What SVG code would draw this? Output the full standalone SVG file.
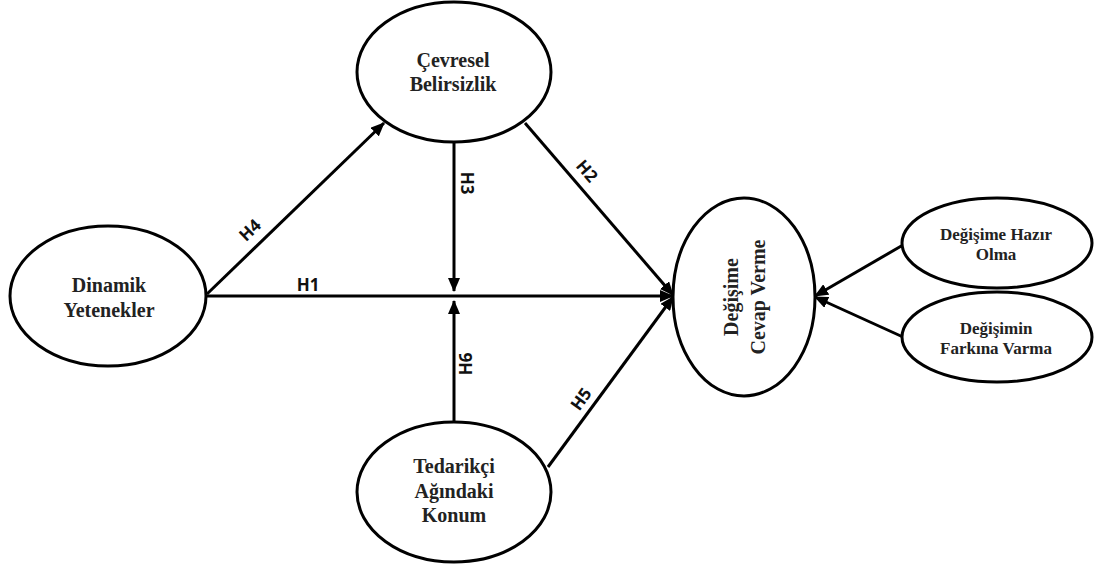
<svg xmlns="http://www.w3.org/2000/svg" width="1100" height="572" viewBox="0 0 1100 572">
<style>
.node ellipse{fill:#fff;stroke:#000;stroke-width:3}
.nt{font-family:"Liberation Serif","Times New Roman",serif;font-weight:bold;font-size:20px;fill:#222;text-anchor:middle}
.nts{font-size:17px}
.edge{stroke:#000;stroke-width:3;fill:none}
.lbl{font-family:"Open Sans","DejaVu Sans",sans-serif;font-weight:bold;font-size:17px;fill:#111;text-anchor:middle}
</style>
<defs>
<marker id="arr" markerUnits="userSpaceOnUse" markerWidth="14" markerHeight="12" refX="13" refY="6" orient="auto">
<path d="M0,0 L14,6 L0,12 Z" fill="#000"/>
</marker>
</defs>
<rect width="1100" height="572" fill="#fff"/>
<g id="connectors">
<line class="edge" x1="207" y1="296" x2="673" y2="296" marker-end="url(#arr)"/>
<line class="edge" x1="207" y1="294" x2="384" y2="123" marker-end="url(#arr)"/>
<line class="edge" x1="454" y1="142" x2="454" y2="291" marker-end="url(#arr)"/>
<line class="edge" x1="454" y1="422" x2="454" y2="301" marker-end="url(#arr)"/>
<line class="edge" x1="525" y1="123" x2="673" y2="295" marker-end="url(#arr)"/>
<line class="edge" x1="548" y1="467" x2="673" y2="297" marker-end="url(#arr)"/>
<line class="edge" x1="903" y1="245" x2="815" y2="296" marker-end="url(#arr)"/>
<line class="edge" x1="903" y1="337" x2="815" y2="297" marker-end="url(#arr)"/>
<text class="lbl" transform="translate(308,291)">H1</text>
<text class="lbl" transform="translate(250,230) rotate(-44)" dy="6">H4</text>
<text class="lbl" transform="translate(467,183) rotate(90)" dy="6">H3</text>
<text class="lbl" transform="translate(587,171) rotate(49)" dy="6">H2</text>
<text class="lbl" transform="translate(466,364) rotate(-90)" dy="6">H6</text>
<text class="lbl" transform="translate(581,399) rotate(-54)" dy="6">H5</text>
</g>
<g id="cevresel" class="node">
<ellipse cx="454" cy="72" rx="97" ry="70"/>
<text class="nt" x="453" y="67">Çevresel</text>
<text class="nt" x="453" y="91">Belirsizlik</text>
</g>
<g id="dinamik" class="node">
<ellipse cx="108" cy="296" rx="98" ry="70"/>
<text class="nt" x="109" y="292">Dinamik</text>
<text class="nt" x="109" y="317">Yetenekler</text>
</g>
<g id="tedarikci" class="node">
<ellipse cx="454" cy="492" rx="97" ry="70"/>
<text class="nt" x="454" y="473">Tedarikçi</text>
<text class="nt" x="454" y="498">Ağındaki</text>
<text class="nt" x="454" y="522">Konum</text>
</g>
<g id="cevap" class="node">
<ellipse cx="744" cy="297" rx="71" ry="99"/>
<text class="nt" transform="translate(738,297) rotate(-90)">Değişime</text>
<text class="nt" transform="translate(765,297) rotate(-90)">Cevap Verme</text>
</g>
<g id="hazir" class="node">
<ellipse cx="997" cy="243" rx="95" ry="45"/>
<text class="nt nts" x="996" y="240">Değişime Hazır</text>
<text class="nt nts" x="996" y="260">Olma</text>
</g>
<g id="farkina" class="node">
<ellipse cx="997" cy="337" rx="95" ry="45"/>
<text class="nt nts" x="996" y="334">Değişimin</text>
<text class="nt nts" x="996" y="354">Farkına Varma</text>
</g>
</svg>
